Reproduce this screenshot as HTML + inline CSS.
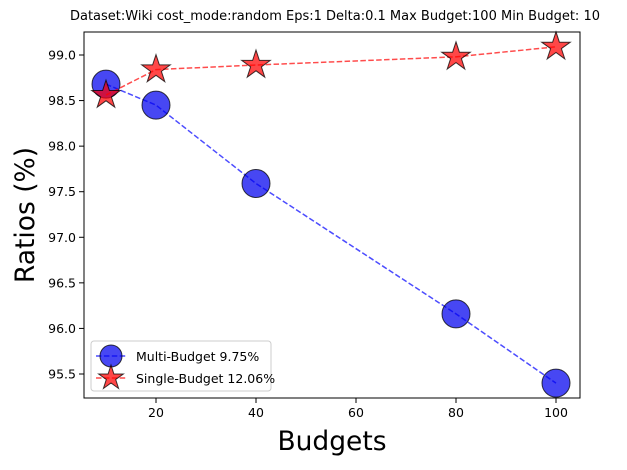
<!DOCTYPE html>
<html><head><meta charset="utf-8"><style>
body{margin:0;background:#fff;font-family:"DejaVu Sans","Liberation Sans",sans-serif}
svg text{font-family:"DejaVu Sans","Liberation Sans",sans-serif}
</style></head><body>
<svg id="chart" width="627" height="466" xmlns="http://www.w3.org/2000/svg">
<rect width="627" height="466" fill="#fff"/>
<text x="335" y="20" font-size="13" text-anchor="middle">Dataset:Wiki cost_mode:random Eps:1 Delta:0.1 Max Budget:100 Min Budget: 10</text>
<g id="plot"></g>
<rect x="84" y="32" width="496" height="366" fill="none" stroke="#000" stroke-width="1"/>
<text x="332" y="450" font-size="26.5" text-anchor="middle">Budgets</text>
<text transform="translate(34,215) rotate(-90)" font-size="26.5" text-anchor="middle">Ratios (%)</text>
<g>
<rect x="91" y="341" width="180" height="50" rx="3" fill="#fff" fill-opacity="0.8" stroke="#ccc"/>
<line x1="96" y1="356" x2="126" y2="356" stroke="#0000ff" stroke-opacity="0.7" stroke-width="1.5" stroke-dasharray="5.5,2.4"/>
<circle cx="111" cy="356" r="11" fill="#0000ee" fill-opacity="0.72" stroke="#000" stroke-opacity="0.75"/>
<text x="136" y="361" font-size="12.5">Multi-Budget 9.75%</text>
<line x1="96" y1="378" x2="126" y2="378" stroke="#ff0000" stroke-opacity="0.7" stroke-width="1.5" stroke-dasharray="5.5,2.4"/>
<polygon id="legstar" fill="#ff0000" fill-opacity="0.72" stroke="#000" stroke-opacity="0.75"/>
<text x="136" y="383" font-size="12.5">Single-Budget 12.06%</text>
</g>
</svg>
<script>
const budgets=[10,20,40,80,100];
const multiValues=[98.68,98.45,97.59,96.16,95.40];
const singleValues=[98.56,98.84,98.89,98.98,99.09];
const xTicks=[20,40,60,80,100];
const yTicks=[95.5,96.0,96.5,97.0,97.5,98.0,98.5,99.0];
const NS="http://www.w3.org/2000/svg";
const xs=v=>156+(v-20)*5;
const ys=v=>55+(99-v)*91.14;
const g=document.getElementById('plot');
function mk(t,a){const e=document.createElementNS(NS,t);for(const k in a)e.setAttribute(k,a[k]);g.appendChild(e);return e;}
function star(cx,cy,R){const r=R*0.382;let p=[];for(let i=0;i<10;i++){const ang=-Math.PI/2+i*Math.PI/5;const rr=i%2?r:R;p.push((cx+rr*Math.cos(ang)).toFixed(1)+','+(cy+rr*Math.sin(ang)).toFixed(1));}return p.join(' ');}
document.getElementById('legstar').setAttribute('points',star(111,378,13));
xTicks.forEach(v=>{const x=xs(v);
const t=mk('line',{x1:x,y1:398,x2:x,y2:403,stroke:'#000'});


const l=mk('text',{x:x,y:417,'font-size':12.5,'text-anchor':'middle'});l.textContent=v;

});
yTicks.forEach(v=>{const y=ys(v);
const t=mk('line',{x1:79,y1:y,x2:84,y2:y,stroke:'#000'});


const l=mk('text',{x:76,y:y+4.5,'font-size':12.5,'text-anchor':'end'});l.textContent=v.toFixed(1);

});
const mp=mk('polyline',{points:budgets.map((b,i)=>xs(b)+','+ys(multiValues[i])).join(' '),fill:'none',stroke:'#0000ff','stroke-opacity':0.7,'stroke-width':1.5,'stroke-dasharray':'5.5,2.4'});


budgets.forEach((b,i)=>{const c=mk('circle',{cx:xs(b),cy:ys(multiValues[i]),r:14,fill:'#0000ee','fill-opacity':0.72,stroke:'#000','stroke-opacity':0.75});

});
const sp=mk('polyline',{points:budgets.map((b,i)=>xs(b)+','+ys(singleValues[i])).join(' '),fill:'none',stroke:'#ff0000','stroke-opacity':0.7,'stroke-width':1.5,'stroke-dasharray':'5.5,2.4'});


budgets.forEach((b,i)=>{const s=mk('polygon',{points:star(xs(b),ys(singleValues[i]),15),fill:'#ff0000','fill-opacity':0.72,stroke:'#000','stroke-opacity':0.75});

});
</script>
</body></html>
